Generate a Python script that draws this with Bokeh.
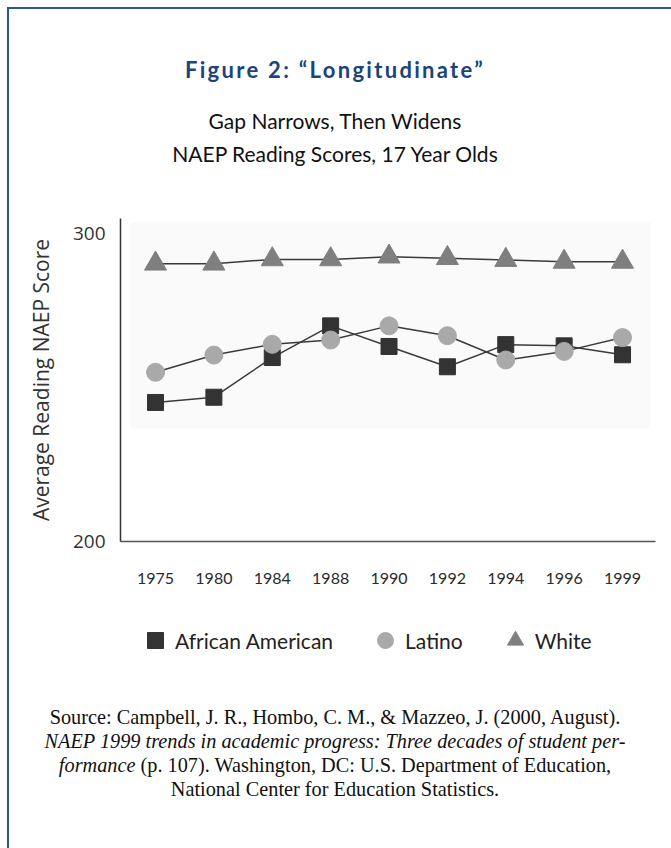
from bokeh.plotting import figure
from bokeh.layouts import column
from bokeh.models import (Range1d, FixedTicker, BoxAnnotation, Legend, LegendItem,
                          ColumnDataSource, Div)
from bokeh.embed import file_html
from bokeh.resources import INLINE

# ---- data ----
years = ["1975", "1980", "1984", "1988", "1990", "1992", "1994", "1996", "1999"]
african_american = [245.2, 246.9, 259.8, 270.1, 263.4, 256.8, 264.0, 263.6, 260.7]
latino = [255.0, 260.6, 264.1, 265.5, 270.1, 266.9, 259.0, 261.8, 266.3]
white = [290.3, 290.3, 291.7, 291.7, 292.6, 292.1, 291.5, 290.9, 290.9]
y_ticks = [200, 300]
series_names = ["African American", "Latino", "White"]

title_text = "Figure 2: \u201cLongitudinate\u201d"
subtitle_lines = ["Gap Narrows, Then Widens", "NAEP Reading Scores, 17 Year Olds"]
y_label = "Average Reading NAEP Score"

# ---- geometry (canvas pixels) ----
OX, OY = 9, 9                 # content origin inside the blue frame
FL, FR, FT, FB = 120, 655, 218, 541
FIG_TOP = 208
FIG_BOTTOM = 600
LEG_BOTTOM = 680
CW = 652                      # width of text blocks (centred at x=335)

idx = list(range(len(years)))
src = ColumnDataSource(dict(x=idx, aa=african_american, la=latino, wh=white))

p = figure(width=671 - OX, height=FIG_BOTTOM - FIG_TOP, output_backend="svg",
           toolbar_location=None,
           x_range=Range1d(-0.6, 8.565), y_range=Range1d(200, 305),
           min_border_left=FL - OX, min_border_right=671 - FR,
           min_border_top=FT - FIG_TOP, min_border_bottom=FIG_BOTTOM - FB)
p.margin = (0, 0, 0, 0)
p.background_fill_color = "white"
p.border_fill_color = "white"
p.outline_line_color = None
p.xgrid.visible = False
p.ygrid.visible = False

# x axis
p.xaxis.ticker = FixedTicker(ticks=idx)
p.xaxis.major_label_overrides = {i: y for i, y in zip(idx, years)}
p.xaxis.major_tick_line_color = None
p.xaxis.minor_tick_line_color = None
p.xaxis.axis_line_color = "#555555"
p.xaxis.axis_line_width = 1.5
p.xaxis.major_label_standoff = 25
p.xaxis.major_label_text_font = "Lato"
p.xaxis.major_label_text_font_size = "16px"
p.xaxis.major_label_text_color = "#2a2a2a"

# y axis
p.yaxis.ticker = FixedTicker(ticks=y_ticks)
p.yaxis.major_tick_line_color = None
p.yaxis.minor_tick_line_color = None
p.yaxis.axis_line_color = "#333333"
p.yaxis.axis_line_width = 1.5
p.yaxis.major_label_standoff = 9
p.yaxis.major_label_text_font = "Open Sans"
p.yaxis.major_label_text_font_size = "19px"
p.yaxis.major_label_text_color = "#333333"
p.yaxis.axis_label = y_label
p.yaxis.axis_label_text_font = "Open Sans"
p.yaxis.axis_label_text_font_size = "21px"
p.yaxis.axis_label_text_font_style = "normal"
p.yaxis.axis_label_text_color = "#333333"
p.yaxis.axis_label_standoff = 15

# faint panel behind the series
p.add_layout(BoxAnnotation(left=130 - FL, right=650 - FL, top=FB - 222, bottom=FB - 428,
                           left_units="screen", right_units="screen",
                           top_units="screen", bottom_units="screen",
                           fill_color="#fafafa", fill_alpha=1, line_color=None,
                           level="underlay"))

# lines
line_kw = dict(line_color="#3a3a3a", line_width=1.5)
p.line("x", "aa", source=src, **line_kw)
p.line("x", "la", source=src, **line_kw)
p.line("x", "wh", source=src, **line_kw)

# markers
mk = [dict(marker="square", size=16, fill_color="#333333", line_color="#333333"),
      dict(marker="circle", size=18, fill_color="#a9a9a9", line_color="#a9a9a9"),
      dict(marker="triangle", size=22, fill_color="#7f7f7f", line_color="#7f7f7f")]
cols = ["aa", "la", "wh"]
for c, kw in zip(cols, mk):
    p.scatter("x", c, source=src, **kw)

# ---- legend strip (same series; its frame is aligned with the chart frame) ----
pl = figure(width=671 - OX, height=LEG_BOTTOM - FIG_BOTTOM, output_backend="svg",
            toolbar_location=None, x_range=Range1d(-0.6, 8.565), y_range=Range1d(0, 1),
            x_axis_location=None, y_axis_location=None,
            min_border_left=0, min_border_right=0, min_border_top=0, min_border_bottom=0)
pl.margin = (0, 0, 0, 0)
pl.outline_line_color = None
pl.xgrid.visible = False
pl.ygrid.visible = False
leg_r = [pl.scatter("x", c, source=src, **kw) for c, kw in zip(cols, mk)]
legend = Legend(items=[LegendItem(label=n, renderers=[r]) for n, r in zip(series_names, leg_r)],
                orientation="horizontal", location=(135 - FL, 640 - FIG_BOTTOM - 22),
                border_line_color=None, background_fill_alpha=0,
                label_text_font="Lato", label_text_font_size="21px",
                label_text_color="#222222", glyph_width=40, glyph_height=44,
                label_standoff=0, spacing=32, padding=0, margin=0)
pl.add_layout(legend)

# ---- header and source text ----
header = Div(width=CW, height=FIG_TOP - OY, margin=(0, 0, 0, 0), text=(
    "<div style='width:%dpx;text-align:center;font-family:Lato;'>"
    "<div style='height:46px'></div>"
    "<div style='font-size:22px;font-weight:bold;color:#1c4479;letter-spacing:2.3px;"
    "line-height:30px;height:30px'>%s</div>"
    "<div style='height:19px'></div>"
    "<div style='font-size:21px;color:#111;line-height:33px'>%s<br>%s</div>"
    "</div>") % (CW, title_text, subtitle_lines[0], subtitle_lines[1]))

source = Div(width=CW, height=848 - LEG_BOTTOM, margin=(0, 0, 0, 0), text=(
    "<div style='width:%dpx;text-align:center;font-family:\"Liberation Serif\";"
    "font-size:20.3px;line-height:24px;color:#111;padding-top:25px'>"
    "Source: Campbell, J. R., Hombo, C. M., &amp; Mazzeo, J. (2000, August).<br>"
    "<i>NAEP 1999 trends in academic progress: Three decades of student per-<br>"
    "formance</i> (p. 107). Washington, DC: U.S. Department of Education,<br>"
    "National Center for Education Statistics.</div>") % CW)

layout = column(header, p, pl, source, margin=(7, 0, 0, 7), spacing=0,
                styles={"border-top": "2px solid #2b568f",
                        "border-left": "2px solid #2b568f",
                        "background-color": "white"})

open("out.html", "w").write(file_html(layout, INLINE))
